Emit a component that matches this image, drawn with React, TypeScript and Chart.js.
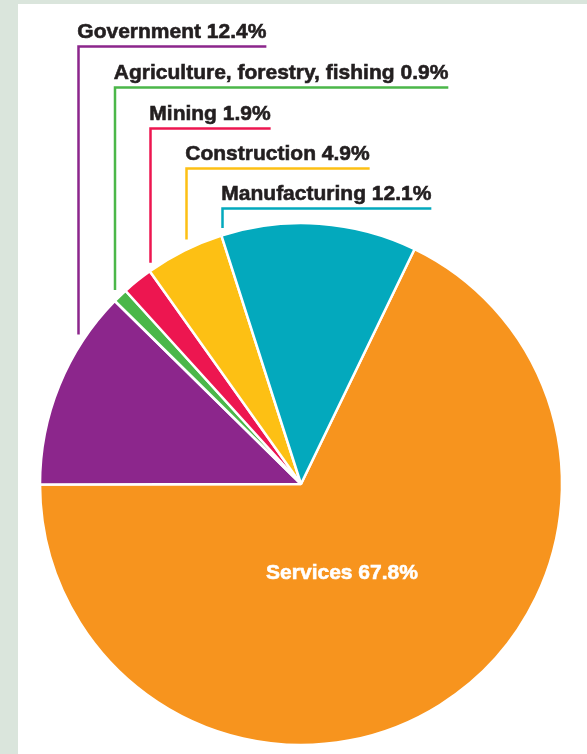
import React, { useEffect, useRef } from "react";
import { Chart, registerables } from "chart.js";

Chart.register(...registerables);

const CATEGORIES = ["Services", "Government", "Agriculture, forestry, fishing", "Mining", "Construction", "Manufacturing"];
const SHARES = [67.8, 12.4, 0.9, 1.9, 4.9, 12.1];
const COLORS = ["#F7941E", "#8C268C", "#4BB749", "#ED1650", "#FDC014", "#03A9BD"];

// layout for the callout labels (index 1..5 of the data)
const LABEL_LINE_X = [78.5, 115, 150.5, 186.5, 222.5];
const LABEL_BASELINE = [38, 79, 120, 160, 200];
const LABEL_GAP = [13, 11, 8, 10, 7];
const INSIDE_OFFSET = { dx: 41, dy: 89 };

const FONT = "bold 21px 'Liberation Sans', Arial, sans-serif";
const W = 587;
const H = 754;

const calloutPlugin = {
  id: "callouts",
  afterDatasetsDraw(chart: any) {
    const meta = chart.getDatasetMeta(0);
    const arc0 = meta.data[0];
    if (!arc0) return;
    const { x: cx, y: cy, outerRadius: r } = arc0.getProps(["x", "y", "outerRadius"], true);
    const ctx = chart.ctx;
    ctx.save();
    ctx.font = FONT;
    ctx.textBaseline = "alphabetic";
    ctx.lineCap = "butt";
    ctx.lineJoin = "miter";
    for (let i = 1; i < CATEGORIES.length; i++) {
      const k = i - 1;
      const lx = LABEL_LINE_X[k];
      const dx = lx - cx;
      const edgeY = cy - Math.sqrt(Math.max(r * r - dx * dx, 0));
      const endY = edgeY - LABEL_GAP[k];
      const text = `${CATEGORIES[i]} ${SHARES[i].toFixed(1)}%`;
      const tx = lx - 1.2;
      const w = ctx.measureText(text).width;
      const base = LABEL_BASELINE[k];
      const uy = base + 8.5;
      ctx.strokeStyle = COLORS[i];
      ctx.lineWidth = 2.5;
      ctx.beginPath();
      ctx.moveTo(tx + w, uy);
      ctx.lineTo(lx, uy);
      ctx.lineTo(lx, endY);
      ctx.stroke();
      ctx.fillStyle = "#231F20";
      ctx.strokeStyle = "#231F20";
      ctx.lineWidth = 0.6;
      ctx.textAlign = "left";
      ctx.fillText(text, tx, base);
      ctx.strokeText(text, tx, base);
    }
    // inside label for the big slice
    ctx.fillStyle = "#FFFFFF";
    ctx.strokeStyle = "#FFFFFF";
    ctx.lineWidth = 0.6;
    ctx.textAlign = "center";
    ctx.textBaseline = "middle";
    const inside = `${CATEGORIES[0]} ${SHARES[0].toFixed(1)}%`;
    ctx.fillText(inside, cx + INSIDE_OFFSET.dx, cy + INSIDE_OFFSET.dy);
    ctx.strokeText(inside, cx + INSIDE_OFFSET.dx, cy + INSIDE_OFFSET.dy);
    ctx.restore();
  },
};

export default function App() {
  const ref = useRef<HTMLCanvasElement | null>(null);
  useEffect(() => {
    if (!ref.current) return;
    const chart = new Chart(ref.current, {
      type: "pie",
      data: {
        labels: CATEGORIES,
        datasets: [
          {
            data: SHARES,
            backgroundColor: COLORS,
            borderColor: "#FFFFFF",
            borderWidth: 2.5,
            radius: 261,
          } as any,
        ],
      },
      options: {
        responsive: false,
        animation: false,
        rotation: 25.8,
        layout: { padding: { left: 15, right: 0, top: 214, bottom: 0 } },
        plugins: {
          legend: { display: false },
          tooltip: { enabled: false },
        },
      },
      plugins: [calloutPlugin],
    });
    return () => chart.destroy();
  }, []);

  return (
    <div style={{ position: "fixed", left: 0, top: 0, width: W, height: H, background: "#DAE5DC" }}>
      <div style={{ position: "absolute", left: 18, top: 4, right: 0, bottom: 0, background: "#FFFFFF" }} />
      <canvas ref={ref} width={W} height={H} style={{ position: "absolute", left: 0, top: 0, width: W, height: H }} />
    </div>
  );
}
